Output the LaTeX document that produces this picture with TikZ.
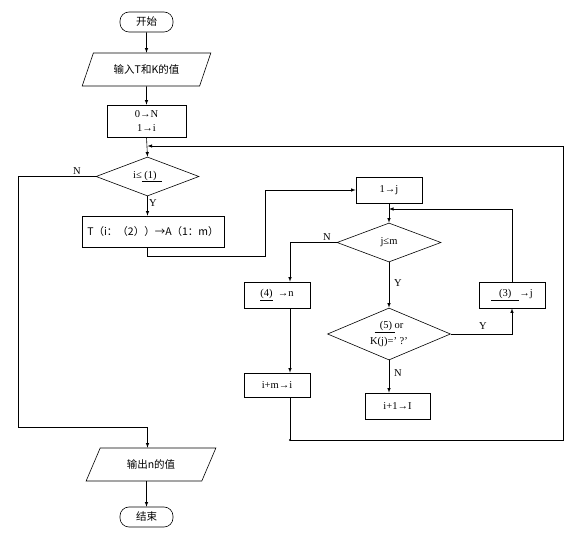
\documentclass[tikz,border=0pt]{standalone}
\usepackage{fontspec}
\setmainfont{Liberation Serif}
\newfontfamily\cjk{Noto Sans CJK SC}
\usetikzlibrary{shapes.geometric,calc}
\begin{document}
\begin{tikzpicture}[>=latex, x=1pt, y=-1pt, line width=0.6pt,
  font=\fontsize{10.5}{14}\selectfont,
  box/.style={draw, rectangle, inner sep=1pt, minimum width=66pt, minimum height=26pt},
  term/.style={draw, rectangle, rounded corners=9pt, minimum width=53pt, minimum height=20pt},
  io/.style={draw, trapezium, trapezium left angle=65, trapezium right angle=115,
    trapezium stretches=true, minimum width=129pt, minimum height=33pt},
  test/.style={draw, diamond, inner sep=0pt, align=center}]
\useasboundingbox (0,0) rectangle (582,545);

\node(start)[term] at (146.5,22) {\cjk 开始};
\node(input)[io] at (146.5,69.5) {\cjk 输入T和K的值};
\node(init)[box, minimum width=79pt, minimum height=32pt, align=center] at (146.5,121) {0→N\\1→i};
\node(cond1)[test, shape aspect=2.6, minimum width=103pt, minimum height=39pt] at (147.5,176.5) {i≤\underline{\ (1)\ \ }};
\node(assign)[box, minimum width=142pt, minimum height=31pt] at (153,231.5) {\cjk T（i：（2））→A（1：m）};

\node(jinit)[box] at (389,190) {1→j};
\node(cond2)[test, shape aspect=2.6, minimum width=104pt, minimum height=39pt] at (389,242.5) {j≤m};
\node(cond3)[test, shape aspect=2.4, minimum width=123pt, minimum height=52pt,
  font=\fontsize{10.5}{16}\selectfont] at (389,334) {\underline{\ \ (5)\ }or\\K(j)=' ?'};
\node(setn)[box] at (277,295) {\underline{(4)}\ \ →n};
\node(addi)[box, minimum height=24pt] at (277,385) {i+m→i};
\node(setj)[box] at (512,295) {\underline{\ \ \ (3)\ \ \ }→j};
\node(incj)[box, minimum width=65pt] at (397.5,406) {i+1→I};
\node(output)[io, minimum width=130pt] at (151,464.5) {\cjk 输出n的值};
\node(stop)[term] at (146.5,517) {\cjk 结束};

% labels
\node(n1) at (77,171) {N};
\node(y1) at (153,203) {Y};
\node(n2) at (327,237) {N};
\node(y2) at (398,283) {Y};
\node(y3) at (483,326) {Y};
\node(n3) at (398,373) {N};

% turn points
\coordinate(back) at (147.5,146);
\coordinate(corner) at (563,146);
\coordinate(nturn) at (18,427);
\coordinate(a1) at (265,256);
\coordinate(jloop) at (389,209);
\coordinate(c4) at ($(setn.north)+(13,0)$);
\coordinate(jn) at (290,440);

\draw (start.south) edge[->] (input.north);
\draw (input.south) edge[->] (init.north);
\draw (init.south) edge[->] (cond1.north);
\draw[->] (cond1.south) -- (cond1.south |- assign.north);
\draw[->] (cond1.west) -| (nturn) -| (output.north -| cond1.south);
\draw[->] (assign.south -| cond1.south) |- (a1) |- (jinit.west);
\draw (jinit.south) edge[->] (cond2.north);
\draw (cond2.south) edge[->] (cond3.north);
\draw[->] (cond3.south) -- (cond3.south |- incj.north);
\draw[->] (cond3.east) -| (setj.south);
\draw[->] (setj.north) |- (jloop);
\draw[->] (cond2.west) -| (c4);
\draw[->] (setn.south -| c4) -- (addi.north -| c4);
\draw[->] (addi.south -| c4) -- (jn) -| (corner) -- (back);
\fill (jn) circle (1.2);
\draw[->] (output.south -| stop.north) -- (stop.north);
\end{tikzpicture}
\end{document}
